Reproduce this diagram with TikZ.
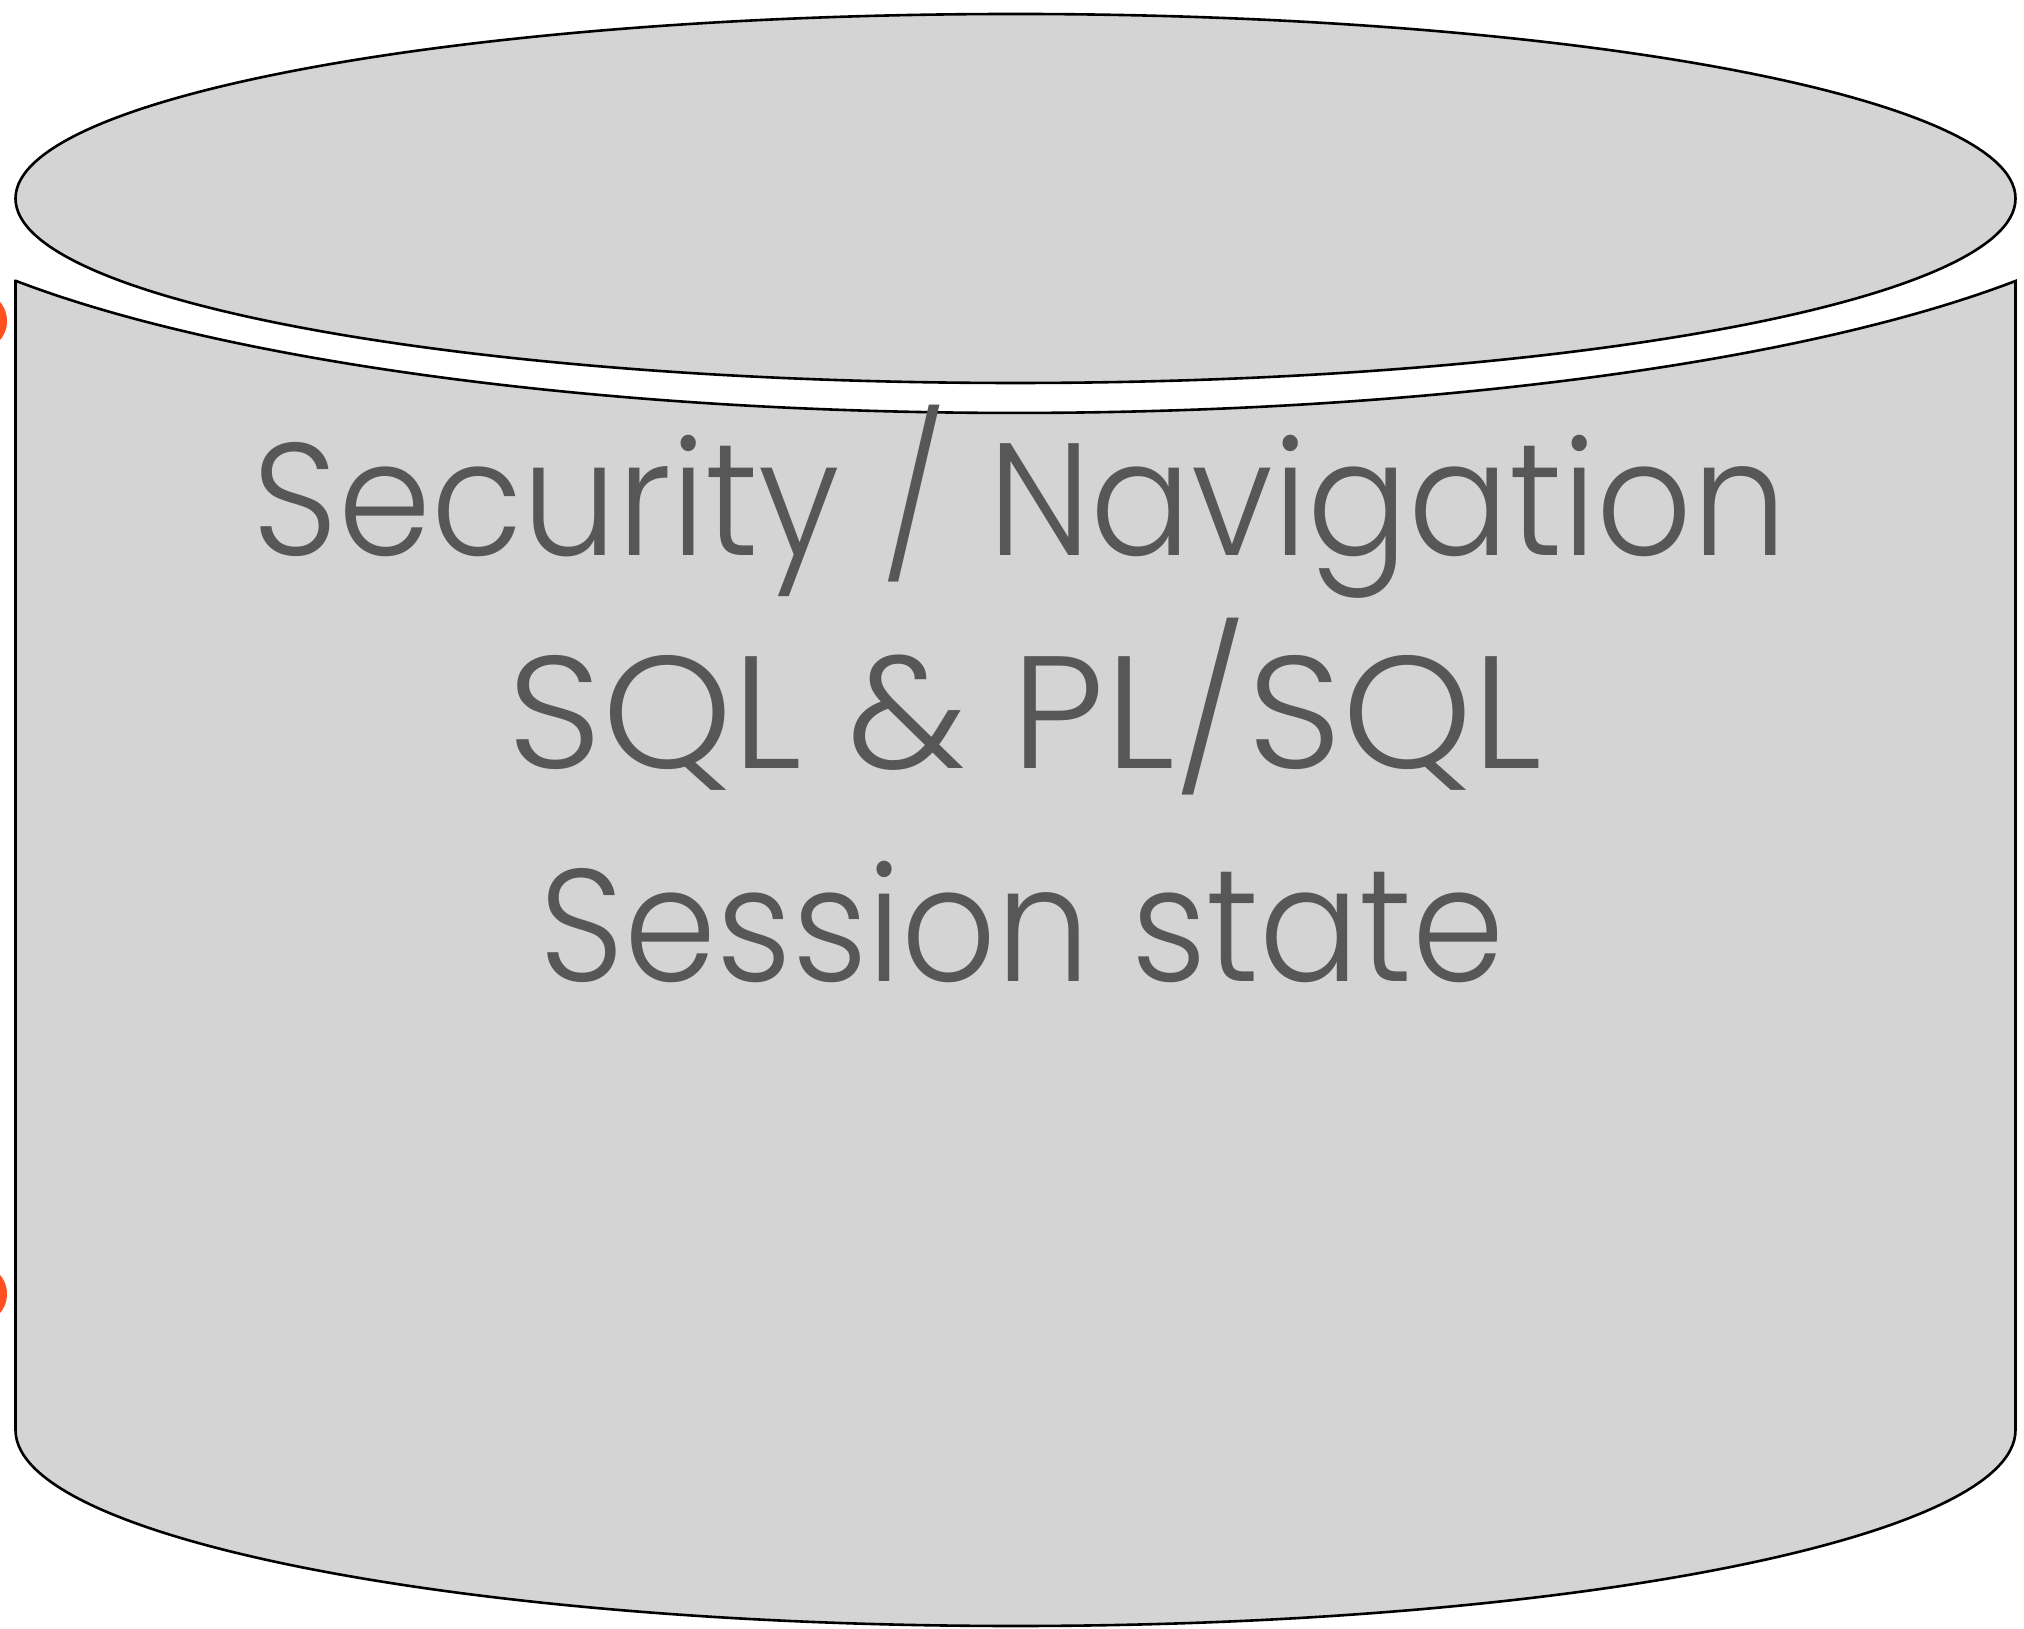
\documentclass[tikz,border=0pt]{standalone}
\usepackage{fontspec}
\setmainfont{Poppins}[UprightFont=* Light]
\definecolor{cylfill}{HTML}{D4D4D4}
\definecolor{txtgray}{HTML}{575757}
\definecolor{dotorange}{HTML}{FF5020}
\begin{document}
\begin{tikzpicture}[x=1pt,y=1pt,
  cyl/.style={fill=cylfill,draw=black,line width=2.6pt},
  lbl/.style={anchor=base,text=txtgray,inner sep=0pt,font=\fontsize{160}{160}\selectfont},
  dot/.style={fill=dotorange,draw=none}]
\useasboundingbox (0,0) rectangle (2024,1628);
% orange markers at the left edge
\fill[dot] (-23,1307) circle[radius=30pt];
\fill[dot] (-23,334) circle[radius=30pt];
% body
\path[cyl] (15.5,1347) -- (15.5,198)
  arc[start angle=180,end angle=360,x radius=1000pt,y radius=196pt]
  -- (2015.5,1347)
  arc[start angle=-31.7,end angle=-148.3,x radius=1175pt,y radius=278pt]
  -- cycle;
% top lid
\path[cyl] (1015.5,1429.5) ellipse[x radius=1000pt,y radius=184.5pt];
% labels
\node[lbl,xscale=0.934] (l1) at (1020,1072) {Security / Navigation};
\node[lbl,xscale=1.034] (l2) at (1025,859) {SQL \& PL/SQL};
\node[lbl,xscale=0.926] (l3) at (1022,646) {Session state};
\end{tikzpicture}
\end{document}
